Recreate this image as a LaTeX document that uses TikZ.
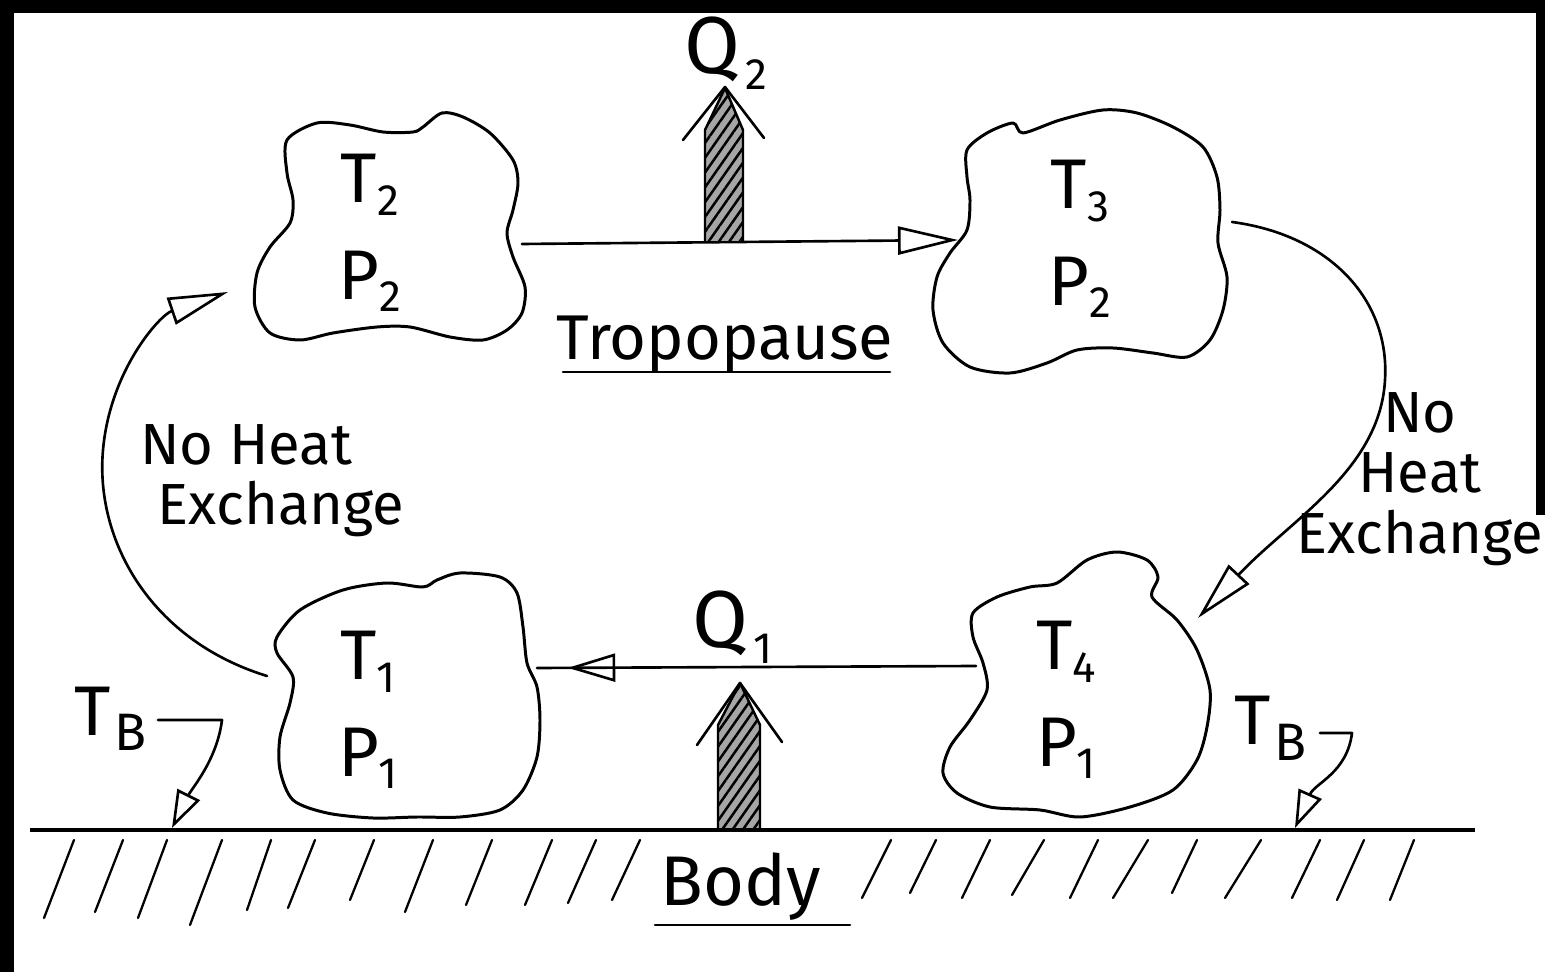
\documentclass[tikz,border=0pt]{standalone}
\usepackage{fontspec}
\setmainfont{Fira Sans}
\usetikzlibrary{arrows.meta,patterns.meta,decorations.markings}

% lowered, smaller index after a letter
\newcommand\lowsub[2][7pt]{\raisebox{-#1}{\fontsize{25}{25}\selectfont #2}}
\newcommand\tbody{T\kern2pt\raisebox{-9pt}{\fontsize{30}{30}\selectfont B}}
\newcommand\heatq[1]{{\fontsize{46}{46}\selectfont Q}\kern3pt\lowsub[9pt]{#1}}

\tikzset{
  hand/.style={line width=1.5pt, line cap=round, line join=round},
  blob/.style={line width=1.7pt, line join=round},
  air/.style={align=center, inner sep=0pt, font=\fontsize{40}{55}\selectfont},
  note/.style={inner sep=0pt, font=\fontsize{33}{34.5}\selectfont},
  big/.style={inner sep=0pt, font=\fontsize{40}{40}\selectfont},
  flow/.style={hand, -{Triangle[open, length=1.2cm, width=0.56cm]}},
  pin/.style={hand, -{Triangle[open, length=0.75cm, width=0.5cm]}},
  heat/.style={line width=1.4pt, line join=round, preaction={fill=gray!70},
    pattern={Lines[angle=55, distance=0.17cm, line width=0.05cm]}},
}

\begin{document}
\begin{tikzpicture}[x=0.02cm, y=-0.02cm]
\useasboundingbox (0,0) rectangle (1545,972);
\fill [black] (0,0) rectangle (1545,972);
\fill [white] (14,13) rectangle (1545,972);
\fill [black] (1536,0) rectangle (1545,515);

% the four air parcels
\node [air] (air2) at (370,233) {T\lowsub{2}\\P\lowsub{2}};
\node [air] (air3) at (1080,239) {T\lowsub{3}\\P\lowsub{2}};
\node [air] (air1) at (368,710) {T\lowsub{1}\\P\lowsub{1}};
\node [air] (air4) at (1066,700) {T\lowsub{4}\\P\lowsub{1}};

\draw [blob] plot [smooth cycle] coordinates {(287,140) (317,123) (350,125) (383,132)
  (413,132) (423,127) (442,113) (463,117) (490,133) (513,160) (518,183) (513,210)
  (507,233) (513,257) (525,287) (522,313) (507,330) (483,340) (450,337) (410,327)
  (377,327) (333,333) (300,340) (270,333) (255,307) (257,273) (270,247) (290,223)
  (293,200) (287,173)};
\draw [blob] plot [smooth cycle] coordinates {(967,150) (987,133) (1013,123) (1023,133)
  (1060,120) (1103,110) (1137,113) (1173,127) (1203,147) (1217,177) (1220,210)
  (1218,243) (1227,277) (1223,310) (1210,340) (1187,357) (1153,353) (1113,348)
  (1077,350) (1047,363) (1010,373) (970,367) (943,343) (933,310) (937,277) (950,253)
  (967,230) (970,200) (967,177)};
\draw [blob] plot [smooth cycle] coordinates {(277,637) (300,610) (343,590) (387,583)
  (423,587) (437,580) (460,573) (500,577) (517,593) (523,627) (527,663) (537,687)
  (540,720) (537,757) (523,790) (500,810) (460,817) (417,817) (373,818) (327,813)
  (293,800) (280,770) (280,737) (290,703) (293,677) (277,653)};
\draw [blob] plot [smooth cycle] coordinates {(973,613) (997,597) (1030,587) (1057,583)
  (1087,560) (1117,552) (1147,560) (1158,577) (1152,597) (1177,620) (1197,650)
  (1210,690) (1207,727) (1197,760) (1173,790) (1130,807) (1080,817) (1040,810)
  (990,807) (957,793) (943,773) (950,747) (970,720) (987,690) (983,663) (973,637)};

% where the paths meet the parcels
\coordinate (air2-e) at (522,244);
\coordinate (air3-w) at (958,240);
\coordinate (air3-e) at (1232,222);
\coordinate (air4-ne) at (1198,618);
\coordinate (air4-w) at (976,666);
\coordinate (air1-e) at (537,668);
\coordinate (air1-w) at (267,676);
\coordinate (air2-sw) at (228,292);

\draw [flow] (air2-e) -- (air3-w);
\draw [flow] (air3-e) .. controls (1330,235) and (1390,300) .. (1385,380)
  .. controls (1380,470) and (1290,520) .. (air4-ne);
\draw [hand, postaction={decorate}, decoration={markings, mark=at position 0.93
  with {\arrow{Triangle[open, length=0.95cm, width=0.56cm]}}}] (air4-w) -- (air1-e);
\draw [flow] (air1-w) .. controls (150,640) and (95,540) .. (103,450)
  .. controls (110,370) and (160,315) .. (air2-sw);

% heat leaving at the top and entering from the ground
\node [big, anchor=base west] (q2) at (684,74) {\heatq{2}};
\draw [heat] (705,241) -- (705,130) -- (725,88) -- (743,130) -- (743,241);
\draw [hand] (683,140) -- (725,87) -- (764,138);
\node [big, anchor=base west] (q1) at (692,648) {\heatq{1}};
\draw [heat] (718,830) -- (718,725) -- (740,683) -- (760,725) -- (760,830);
\draw [hand] (697,745) -- (740,683) -- (782,742);

% labels
\node [anchor=base west, inner sep=0pt, font=\fontsize{36}{36}\selectfont] (tropo) at (556,360) {Tropopause};
\draw [hand] (563,372) -- (890,372);
\node [note, anchor=north west, align=left] (adia1) at (140,424) {No Heat\\\hspace{0.3em}Exchange};
\node [note, anchor=north, align=center] (adia2) at (1420,392) {No\\Heat\\Exchange};
\node [big, anchor=base west] (body) at (660,905) {Body};
\draw [hand] (655,925) -- (850,925);

% ground and its hatching
\draw [line width=2.2pt] (30,830) -- (1475,830);
\foreach \xa/\xb/\yb in {74/44/918, 123/95/912, 167/138/918, 222/190/925, 271/247/910,
  315/288/908, 374/350/900, 433/405/912, 492/466/905, 552/525/905, 596/568/903,
  640/612/900, 891/862/898, 936/910/893, 990/962/898, 1044/1012/895, 1098/1070/898,
  1148/1113/898, 1197/1172/893, 1261/1225/898, 1320/1292/898, 1364/1337/900,
  1414/1390/900}
  \draw [hand, line width=1.3pt] (\xa,840) -- (\xb,\yb);

% body temperature markers
\node [big, anchor=base east] (tb1) at (147,735) {\tbody};
\coordinate (tb1-foot) at (172,828);
\draw [pin] (158,720) -- (222,720) .. controls +(-5,40) and +(20,-40) .. (tb1-foot);
\node [big, anchor=base east] (tb2) at (1307,745) {\tbody};
\coordinate (tb2-foot) at (1295,828);
\draw [pin] (1320,733) -- (1352,733) .. controls +(-5,40) and +(20,-45) .. (tb2-foot);
\end{tikzpicture}
\end{document}
